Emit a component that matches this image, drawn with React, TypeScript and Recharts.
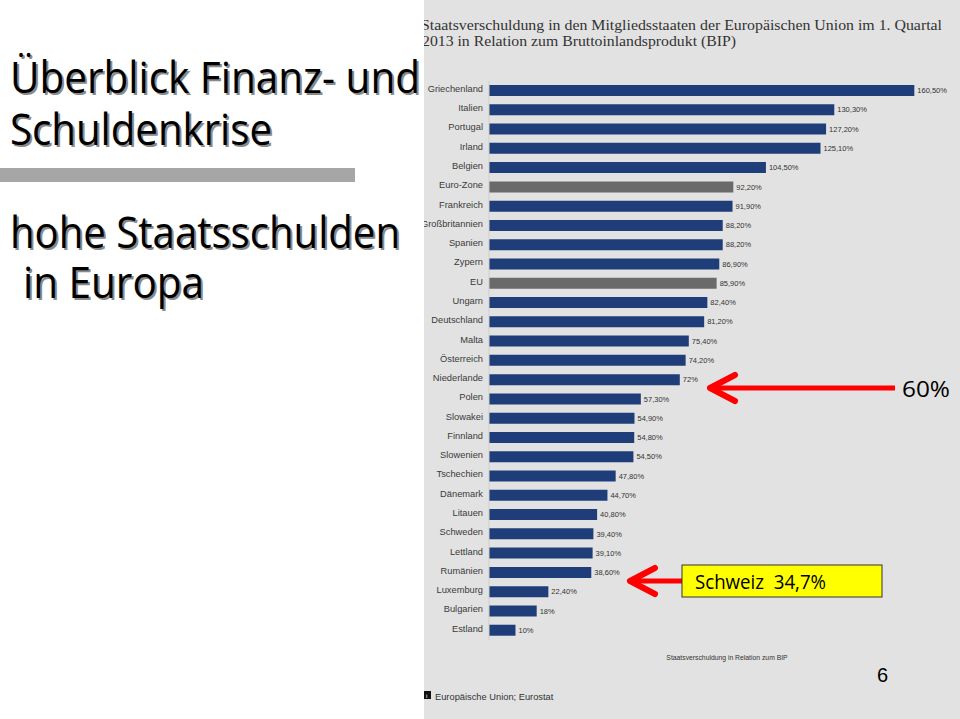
import { BarChart, Bar, XAxis, YAxis, CartesianGrid, LabelList, Cell } from "recharts";

const countries = [
  "Griechenland", "Italien", "Portugal", "Irland", "Belgien", "Euro-Zone",
  "Frankreich", "Großbritannien", "Spanien", "Zypern", "EU", "Ungarn",
  "Deutschland", "Malta", "Österreich", "Niederlande", "Polen", "Slowakei",
  "Finnland", "Slowenien", "Tschechien", "Dänemark", "Litauen", "Schweden",
  "Lettland", "Rumänien", "Luxemburg", "Bulgarien", "Estland",
];
const debtRatio = [
  160.5, 130.3, 127.2, 125.1, 104.5, 92.2, 91.9, 88.2, 88.2, 86.9, 85.9, 82.4,
  81.2, 75.4, 74.2, 72, 57.3, 54.9, 54.8, 54.5, 47.8, 44.7, 40.8, 39.4, 39.1,
  38.6, 22.4, 18, 10,
];
const aggregates = ["Euro-Zone", "EU"];
const gridTicks = [0, 20, 40, 60, 80, 100, 120, 140, 160, 180];

const rows = countries.map((name, i) => ({ name, value: debtRatio[i] }));

const BLUE = "#1f3e79";
const GREY = "#6a6a6a";
const RED = "#ff0000";
const ARIAL = "'Liberation Sans', Arial, sans-serif";
const SLIDE = "'Open Sans', 'DejaVu Sans', sans-serif";

const fmt = (v: number) =>
  Number.isInteger(v) ? `${v}%` : `${v.toFixed(2).replace(".", ",")}%`;

function ShadowText({ x, y, len, children }: { x: number; y: number; len: number; children: string }) {
  const common = {
    fontFamily: SLIDE,
    fontSize: 44,
    textLength: len,
    lengthAdjust: "spacingAndGlyphs" as const,
  };
  return (
    <g>
      <text x={x + 2} y={y + 2} fill="#8a8a8a" {...common}>{children}</text>
      <text x={x} y={y} fill="#000" {...common}>{children}</text>
    </g>
  );
}

export default function App() {
  return (
    <div
      style={{
        position: "absolute",
        left: 0,
        top: 0,
        width: 960,
        height: 719,
        background: "#fff",
        overflow: "hidden",
      }}
    >
      {/* slide heading on the left */}
      <svg width={424} height={719} style={{ position: "absolute", left: 0, top: 0 }}>
        <ShadowText x={10} y={93} len={410}>Überblick Finanz- und</ShadowText>
        <ShadowText x={10} y={145} len={262}>Schuldenkrise</ShadowText>
        <rect x={0} y={168} width={355} height={14} fill="#a6a6a6" />
        <ShadowText x={10} y={248} len={390}>hohe Staatsschulden</ShadowText>
        <ShadowText x={23} y={298} len={181}>in Europa</ShadowText>
      </svg>

      {/* pasted chart panel */}
      <div
        style={{
          position: "absolute",
          left: 424,
          top: 0,
          width: 536,
          height: 719,
          background: "#e2e2e2",
          overflow: "hidden",
        }}
      >
        <svg width={536} height={80} style={{ position: "absolute", left: 0, top: 0 }}>
          <text x={-3} y={30} fontFamily="'Liberation Serif', 'DejaVu Serif', serif" fontSize={15.5} fill="#333"
            textLength={521} lengthAdjust="spacingAndGlyphs">
            Staatsverschuldung in den Mitgliedsstaaten der Europäischen Union im 1. Quartal
          </text>
          <text x={-2} y={46} fontFamily="'Liberation Serif', 'DejaVu Serif', serif" fontSize={15.5} fill="#333"
            textLength={314} lengthAdjust="spacingAndGlyphs">
            2013 in Relation zum Bruttoinlandsprodukt (BIP)
          </text>
        </svg>
        <div style={{ position: "absolute", left: 0, top: 0 }}>
          <BarChart
            width={545}
            height={719}
            data={rows}
            layout="vertical"
            margin={{ top: 81, right: 3, bottom: 59, left: 0 }}
            barCategoryGap={4}
          >
            <CartesianGrid horizontal={false} stroke="#ebebeb" />
            <XAxis
              type="number"
              domain={[0, 180]}
              ticks={gridTicks}
              tick={false}
              tickLine={false}
              axisLine={false}
              height={20}
            />
            <YAxis
              type="category"
              dataKey="name"
              width={65}
              interval={0}
              tickLine={false}
              tickMargin={0}
              axisLine={{ stroke: "#cbcbcb" }}
              tick={{ fontSize: 9.3, fill: "#3a3a3a", fontFamily: ARIAL, dy: -2 }}
            />
            <Bar dataKey="value" barSize={11} isAnimationActive={false}>
              {rows.map((r) => (
                <Cell key={r.name} fill={aggregates.includes(r.name) ? GREY : BLUE} />
              ))}
              <LabelList
                dataKey="value"
                position="right"
                offset={3}
                formatter={fmt}
                fontSize={7.5}
                fill="#333"
                fontFamily={ARIAL}
              />
            </Bar>
          </BarChart>
        </div>
      </div>

      {/* slide annotations on top */}
      <svg width={960} height={719} style={{ position: "absolute", left: 0, top: 0, pointerEvents: "none" }}>
        <text x={727} y={660} textAnchor="middle" fontFamily={ARIAL} fontSize={6.8} fill="#333">
          Staatsverschuldung in Relation zum BIP
        </text>

        <line x1={713} y1={388} x2={895} y2={388} stroke={RED} strokeWidth={5} />
        <polyline points="735,375 710,388 735,401" fill="none" stroke={RED} strokeWidth={6}
          strokeLinecap="round" strokeLinejoin="round" />
        <text x={902} y={397} fontFamily={SLIDE} fontSize={22} fill="#000" textLength={48}
          lengthAdjust="spacingAndGlyphs">60%</text>

        <line x1={633} y1={581} x2={683} y2={581} stroke={RED} strokeWidth={5} />
        <polyline points="655,568 630,581 655,594" fill="none" stroke={RED} strokeWidth={6}
          strokeLinecap="round" strokeLinejoin="round" />
        <rect x={682} y={565} width={200} height={32} fill="#ffff00" stroke="#333" strokeWidth={1} />
        <text x={695} y={589} fontFamily={SLIDE} fontSize={20} fill="#000" textLength={131}
          lengthAdjust="spacingAndGlyphs" xmlSpace="preserve">Schweiz  34,7%</text>

        <text x={877} y={682} fontFamily={ARIAL} fontSize={20} fill="#000">6</text>

        <rect x={424} y={691} width={7} height={8} fill="#111" />
        <text x={426} y={698} fontFamily={ARIAL} fontSize={6} fill="#fff">i</text>
        <text x={435} y={700} fontFamily={ARIAL} fontSize={9.3} fill="#333">Europäische Union; Eurostat</text>
      </svg>
    </div>
  );
}
